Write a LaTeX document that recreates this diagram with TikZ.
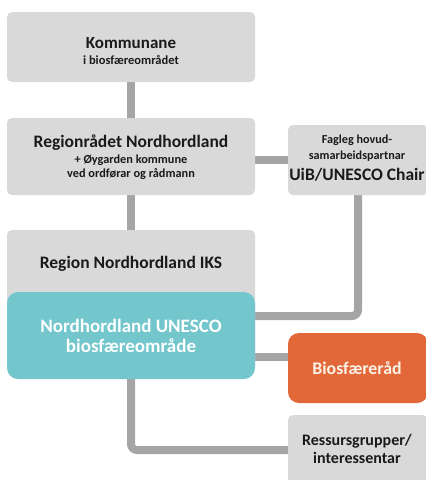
\documentclass[tikz,border=0pt]{standalone}
\usepackage{fontspec}
\setmainfont{Carlito}
\usetikzlibrary{backgrounds}
\definecolor{boxgray}{HTML}{D9D9D9}
\definecolor{linegray}{HTML}{A5A5A5}
\definecolor{tealbox}{HTML}{73C6CC}
\definecolor{orangebox}{HTML}{E2683A}
\definecolor{txt}{HTML}{1A1A1A}
\definecolor{creamtxt}{HTML}{FBF2E8}
\tikzset{
  x=1pt, y=-1pt,
  graybox/.style={fill=boxgray, draw=none, rounded corners=5pt, inner sep=0pt},
  tealnode/.style={fill=tealbox, draw=none, rounded corners=11pt, inner sep=0pt},
  orangenode/.style={fill=orangebox, draw=none, rounded corners=11pt, inner sep=0pt},
  conn/.style={draw=linegray, line width=8pt, rounded corners=6pt},
  lbl/.style={anchor=base, inner sep=0pt, text=txt, font=\bfseries},
}
\begin{document}
\begin{tikzpicture}
\useasboundingbox (0,0) rectangle (426,480);
% boxes
\node[graybox, minimum width=248pt, minimum height=70pt] (kom) at (131,47) {};
\node[graybox, minimum width=248pt, minimum height=77pt] (reg) at (131,156.5) {};
\node[graybox, minimum width=140pt, minimum height=70pt] (fag) at (358,160) {};
\node[graybox, minimum width=248pt, minimum height=140pt] (iks) at (131,300) {};
\node[tealnode, minimum width=248pt, minimum height=87pt] (teal) at (131,335.5) {};
\node[orangenode, minimum width=140pt, minimum height=70pt] (bio) at (358,368) {};
\node[graybox, minimum width=140pt, minimum height=70pt] (res) at (358,450) {};
% connectors
\begin{scope}[on background layer]
\fill[white] (0,0) rectangle (426,480);
\draw[conn] (kom.south) -- (reg.north);
\draw[conn] (fag.west) -- (fag.west -| reg.east);
\draw[conn] (reg.south) -- (iks.north);
\draw[conn] (fag.south) |- (teal.east |- 0,316);
\draw[conn] (teal.east |- 0,357) -- (bio.west |- 0,357);
\draw[conn] (teal.south) |- (res.west);
\end{scope}
% texts
\node[lbl, font=\bfseries\fontsize{17}{17}\selectfont] (kom-t1) at (131,48) {Kommunane};
\node[lbl, font=\bfseries\fontsize{12.5}{12.5}\selectfont] (kom-t2) at (131,64.5) {i biosfæreområdet};
\node[lbl, font=\bfseries\fontsize{17.5}{17.5}\selectfont] (reg-t1) at (131,147) {Regionrådet Nordhordland};
\node[lbl, font=\bfseries\fontsize{12.3}{12.3}\selectfont] (reg-t2) at (131,163) {+ Øygarden kommune};
\node[lbl, font=\bfseries\fontsize{12.3}{12.3}\selectfont] (reg-t3) at (131,177.5) {ved ordførar og rådmann};
\node[lbl, font=\bfseries\fontsize{12.2}{12.2}\selectfont] (fag-t1) at (357,143) {Fagleg hovud-};
\node[lbl, font=\bfseries\fontsize{12.2}{12.2}\selectfont] (fag-t2) at (357,159) {samarbeidspartnar};
\node[lbl, font=\bfseries\fontsize{17.5}{17.5}\selectfont] (fag-t3) at (357,180) {UiB/UNESCO Chair};
\node[lbl, font=\bfseries\fontsize{17.5}{17.5}\selectfont] (iks-t) at (131,268) {Region Nordhordland IKS};
\node[anchor=center, inner sep=0pt, text=white, align=center, font=\bfseries\fontsize{19}{19.5}\selectfont] (teal-t) at (131,336) {Nordhordland UNESCO\\biosfæreområde};
\node[lbl, text=creamtxt, font=\bfseries\fontsize{17.8}{17.8}\selectfont] (bio-t) at (357,374) {Biosfæreråd};
\node[lbl, font=\bfseries\fontsize{16}{16}\selectfont] (res-t1) at (357,445) {Ressursgrupper/};
\node[lbl, font=\bfseries\fontsize{16}{16}\selectfont] (res-t2) at (357,463) {interessentar};
\end{tikzpicture}
\end{document}
